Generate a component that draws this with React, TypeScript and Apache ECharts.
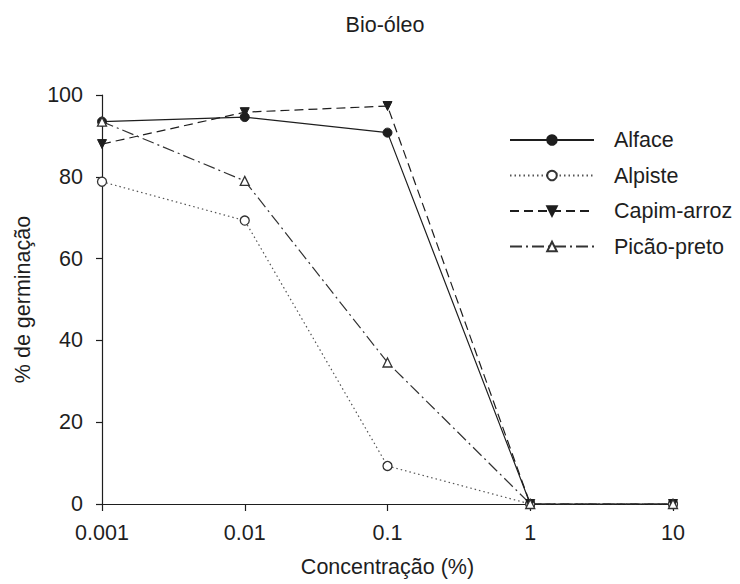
import React, { useEffect, useRef } from "react";
import * as echarts from "echarts";

const concentrations = [0.001, 0.01, 0.1, 1, 10];
const alface = [93.5, 94.6, 90.8, 0, 0];
const alpiste = [78.8, 69.3, 9.3, 0, 0];
const capimArroz = [88.0, 95.8, 97.3, 0, 0];
const picaoPreto = [93.5, 79.0, 34.6, 0, 0];
const yTicks = [0, 20, 40, 60, 80, 100];

const FONT = "Liberation Sans, Arial, sans-serif";
const INK = "#1e1e1e";
const FS = 21.5;

function pairs(vals: number[]) {
  return concentrations.map((c, i) => [c, vals[i]]);
}

export default function App() {
  const ref = useRef<HTMLDivElement>(null);
  useEffect(() => {
    if (!ref.current) return;
    const chart = echarts.init(ref.current, undefined, { renderer: "svg" });
    const base = {
      type: "line" as const,
      symbolSize: 9,
      z: 3,
    };
    chart.setOption({
      animation: false,
      backgroundColor: "#ffffff",
      textStyle: { fontFamily: FONT, color: INK },
      title: {
        text: "Bio-óleo",
        left: 380,
        textAlign: "center",
        top: 9,
        textStyle: { fontFamily: FONT, fontSize: FS, fontWeight: "normal", color: INK },
      },
      legend: {
        orient: "vertical",
        left: 504,
        top: 124,
        itemWidth: 84,
        itemHeight: 12,
        itemGap: 13.5,
        textStyle: { fontFamily: FONT, fontSize: FS, color: INK, lineHeight: 22, padding: [0, 0, 0, 15] },
        data: ["Alface", "Alpiste", "Capim-arroz", "Picão-preto"],
      },
      grid: { left: 102, right: 67, top: 95, bottom: 80, containLabel: false },
      xAxis: {
        type: "log",
        logBase: 10,
        min: 0.001,
        max: 10,
        name: "Concentração (%)",
        nameLocation: "middle",
        nameGap: 52,
        nameTextStyle: { fontFamily: FONT, fontSize: FS, color: INK },
        axisLine: { lineStyle: { color: INK, width: 1.2 } },
        axisTick: { show: true, length: 7, inside: false, lineStyle: { color: INK, width: 1.2 } },
        minorTick: { show: false },
        splitLine: { show: false },
        axisLabel: {
          margin: 18,
          fontFamily: FONT,
          fontSize: FS,
          color: INK,
          formatter: (v: number) => String(Number(v.toPrecision(6))),
        },
      },
      yAxis: {
        type: "value",
        min: 0,
        max: 100,
        interval: 20,
        name: "% de germinação",
        nameLocation: "middle",
        nameGap: 68,
        nameRotate: 90,
        nameTextStyle: { fontFamily: FONT, fontSize: FS, color: INK },
        axisLine: { show: true, lineStyle: { color: INK, width: 1.2 } },
        axisTick: { show: true, length: 6, inside: false, lineStyle: { color: INK, width: 1.2 } },
        splitLine: { show: false },
        axisLabel: {
          margin: 19,
          fontFamily: FONT,
          fontSize: FS,
          color: INK,
          formatter: (v: number) => (yTicks.includes(v) ? String(v) : ""),
        },
      },
      series: [
        {
          ...base,
          name: "Alface",
          data: pairs(alface),
          symbol: "circle",
          lineStyle: { color: INK, width: 1.2, type: "solid" },
          itemStyle: { color: INK, borderColor: INK, borderWidth: 1 },
        },
        {
          ...base,
          name: "Alpiste",
          data: pairs(alpiste),
          symbol: "circle",
          lineStyle: { color: "#555", width: 1.2, type: [1.5, 3] },
          itemStyle: { color: "#ffffff", borderColor: "#333", borderWidth: 1.3 },
        },
        {
          ...base,
          name: "Capim-arroz",
          data: pairs(capimArroz),
          symbol: "triangle",
          symbolRotate: 180,
          lineStyle: { color: INK, width: 1.2, type: [9, 5] },
          itemStyle: { color: INK, borderColor: INK, borderWidth: 1 },
        },
        {
          ...base,
          name: "Picão-preto",
          data: pairs(picaoPreto),
          symbol: "triangle",
          lineStyle: { color: "#333", width: 1.2, type: [12, 4, 2, 4] },
          itemStyle: { color: "#ffffff", borderColor: "#333", borderWidth: 1.3 },
        },
      ],
    });
    return () => chart.dispose();
  }, []);
  return (
    <div
      ref={ref}
      style={{ position: "absolute", left: 0, top: 0, width: 740, height: 584, background: "#fff" }}
    />
  );
}
